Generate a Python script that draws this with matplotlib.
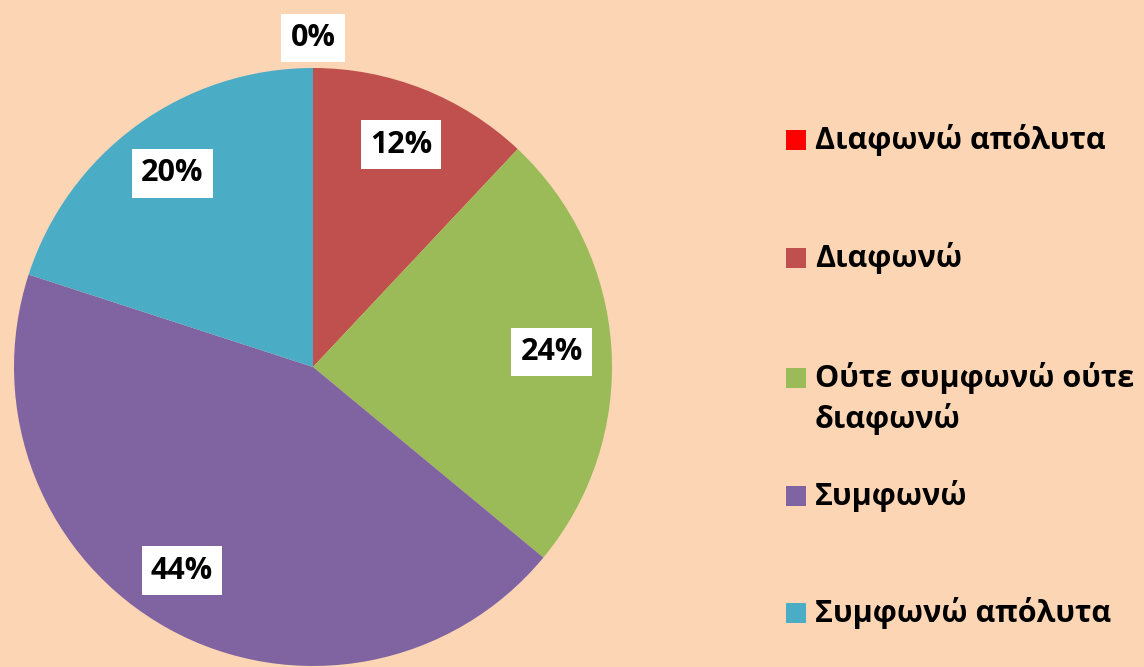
import numpy as np
import matplotlib
matplotlib.use("Agg")
import matplotlib.pyplot as plt
from matplotlib.patches import Rectangle

# --- Daten ---
labels = ["Διαφωνώ απόλυτα", "Διαφωνώ", "Ούτε συμφωνώ ούτε\nδιαφωνώ",
          "Συμφωνώ", "Συμφωνώ απόλυτα"]
values = [0, 12, 24, 44, 20]
colors = ["#FF0000", "#C0504D", "#9BBB59", "#8064A2", "#4BACC6"]

BG = "#FCD5B5"
W, H = 1144, 667
FS = 22
plt.rcParams["font.family"] = ["Open Sans", "DejaVu Sans"]

fig = plt.figure(figsize=(W / 100, H / 100), dpi=100, facecolor=BG)

# Pie-Achse: Mittelpunkt (313, 367), Radius 299 px
cx, cy, R = 313, 367, 299
ax = fig.add_axes([(cx - R) / W, (H - cy - R) / H, 2 * R / W, 2 * R / H])
ax.set_facecolor(BG)

wedges, texts, autotexts = ax.pie(
    values, colors=colors, startangle=90, counterclock=False,
    autopct=lambda p: f"{p:.0f}%", pctdistance=0.8,
    wedgeprops=dict(linewidth=0),
    textprops=dict(fontsize=FS, fontweight="bold", color="black"),
)
for w, t, v in zip(wedges, autotexts, values):
    t.set_bbox(dict(boxstyle="square,pad=0.3", facecolor="white", edgecolor="none"))
    ang = np.deg2rad((w.theta1 + w.theta2) / 2)
    if v == 0:
        # 0%-Label sitzt ausserhalb des Kreises
        t.set_position((1.1 * np.cos(ang), 1.1 * np.sin(ang)))
    elif v == 44:
        ang -= np.deg2rad(4)
        t.set_position((0.81 * np.cos(ang), 0.81 * np.sin(ang)))
ax.set_xlim(-1, 1)
ax.set_ylim(-1, 1)
ax.set_aspect("equal")
ax.axis("off")

# Legende (manuell, wie im Original)
row_y = [140, 258, 378, 496, 613]
for lab, col, y in zip(labels, colors, row_y):
    fig.patches.append(Rectangle((786 / W, (H - y - 10) / H), 20 / W, 20 / H,
                                 transform=fig.transFigure, facecolor=col,
                                 edgecolor="none"))
    if "\n" in lab:
        fig.text(815 / W, (H - y + 16) / H, lab, fontsize=FS, fontweight="bold",
                 va="top", ha="left", linespacing=1.37)
    else:
        fig.text(815 / W, (H - y) / H, lab, fontsize=FS, fontweight="bold",
                 va="center", ha="left")

fig.savefig("out.png", dpi=100, facecolor=BG)
